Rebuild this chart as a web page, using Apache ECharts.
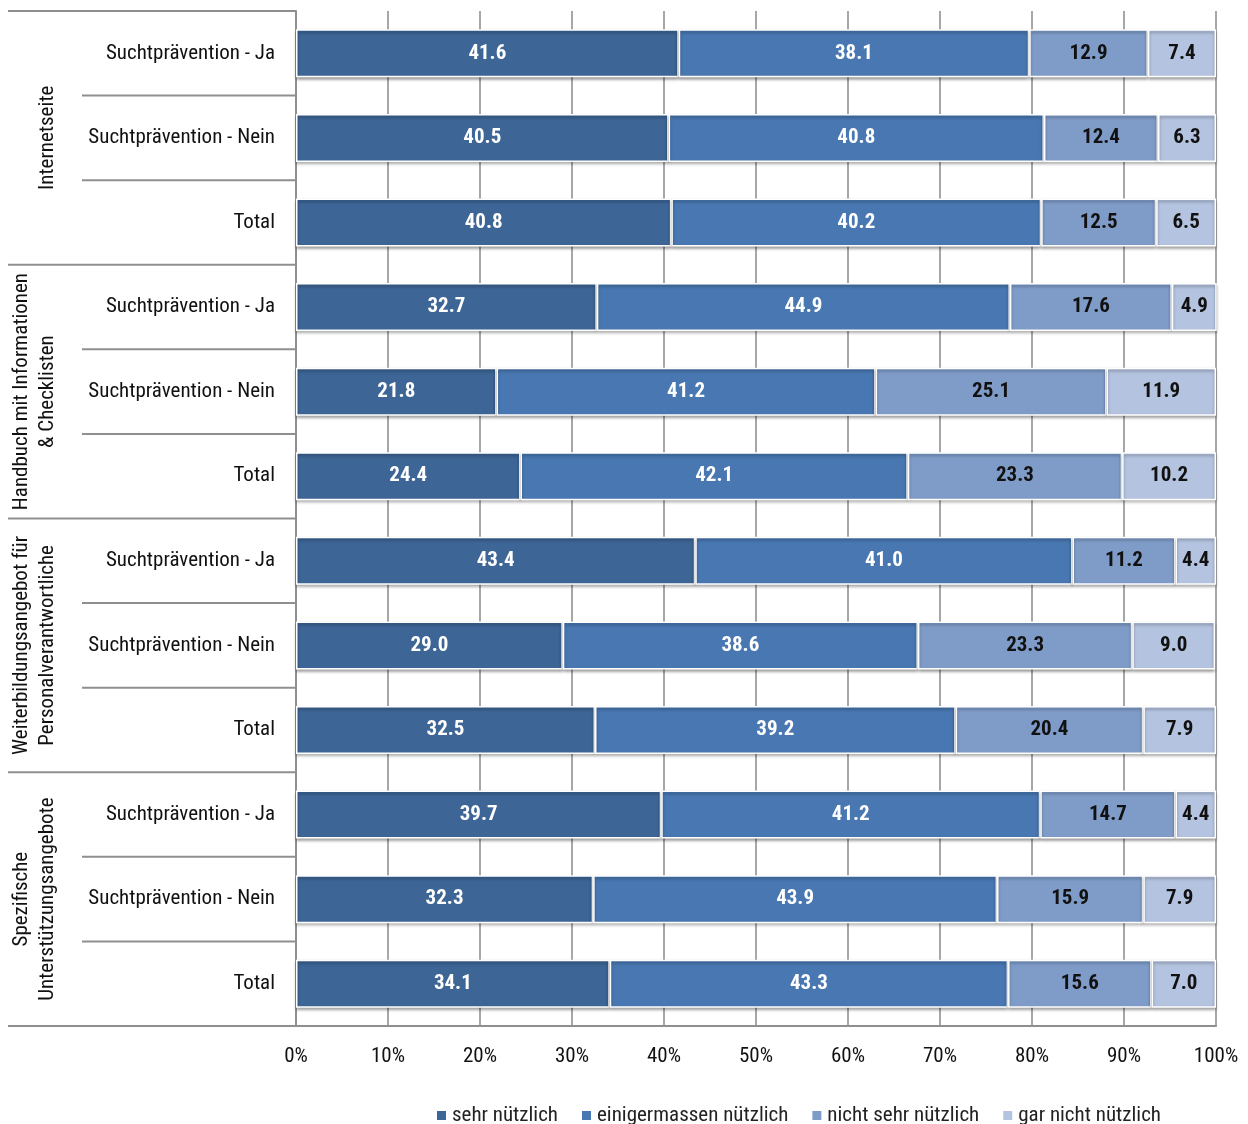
<!DOCTYPE html>
<html>
<head>
<meta charset="utf-8">
<script src="https://cdn.jsdelivr.net/npm/echarts@6/dist/echarts.min.js"></script>
<style>
html,body{margin:0;padding:0;background:#fff;}
#chart{width:1248px;height:1124px;}
</style>
</head>
<body>
<div id="chart"></div>
<script>
var FONT = "'Liberation Sans Narrow','Arial Narrow','Roboto Condensed','DejaVu Sans Condensed',sans-serif";

var groups = [
  "Internetseite",
  "Handbuch mit Informationen\n& Checklisten",
  "Weiterbildungsangebot für\nPersonalverantwortliche",
  "Spezifische\nUnterstützungsangebote"
];
var rowLabels = ["Suchtprävention - Ja", "Suchtprävention - Nein", "Total"];
var seriesNames = ["sehr nützlich", "einigermassen nützlich", "nicht sehr nützlich", "gar nicht nützlich"];
var xTicks = ["0%","10%","20%","30%","40%","50%","60%","70%","80%","90%","100%"];

var sehr = [41.6, 40.5, 40.8, 32.7, 21.8, 24.4, 43.4, 29.0, 32.5, 39.7, 32.3, 34.1];
var einiger = [38.1, 40.8, 40.2, 44.9, 41.2, 42.1, 41.0, 38.6, 39.2, 41.2, 43.9, 43.3];
var nichtSehr = [12.9, 12.4, 12.5, 17.6, 25.1, 23.3, 11.2, 23.3, 20.4, 14.7, 15.9, 15.6];
var garNicht = [7.4, 6.3, 6.5, 4.9, 11.9, 10.2, 4.4, 9.0, 7.9, 4.4, 7.9, 7.0];

var colors = ["#3d6595", "#4877b1", "#7f9cc8", "#b4c3df"];
var labelColors = ["#ffffff", "#ffffff", "#111111", "#111111"];

var categories = [];
groups.forEach(function (g) { rowLabels.forEach(function (r) { categories.push(r); }); });

var values = [sehr, einiger, nichtSehr, garNicht];

var chart = echarts.init(document.getElementById('chart'));

var series = values.map(function (arr, k) {
  return {
    name: seriesNames[k],
    type: 'bar',
    stack: 'total',
    barWidth: 48,
    data: arr,
    itemStyle: {
      color: colors[k],
      borderColor: '#ffffff',
      borderWidth: 1.5,
      shadowColor: 'rgba(0,0,0,0.35)',
      shadowBlur: 3,
      shadowOffsetY: 2
    },
    label: {
      show: true,
      position: 'inside',
      color: labelColors[k],
      fontFamily: FONT,
      fontWeight: 'bold',
      fontSize: 21,
      formatter: function (p) { return p.value.toFixed(1); }
    },
    emphasis: { disabled: true }
  };
});

var option = {
  animation: false,
  backgroundColor: '#ffffff',
  textStyle: { fontFamily: FONT },
  grid: { left: 296, right: 32, top: 11, bottom: 98, containLabel: false },
  legend: {
    data: seriesNames,
    left: 430,
    top: 1100,
    itemWidth: 11,
    itemHeight: 11,
    itemGap: 22,
    icon: 'rect',
    textStyle: { fontFamily: FONT, fontSize: 21, color: '#222' }
  },
  xAxis: {
    type: 'value',
    min: 0,
    max: 100,
    interval: 10,
    axisLine: { show: true, lineStyle: { color: '#8f8f8f', width: 2 } },
    axisTick: { show: false },
    splitLine: { show: true, lineStyle: { color: '#8a8a8a', width: 1.5 } },
    axisLabel: {
      margin: 20,
      fontFamily: FONT,
      fontSize: 21,
      color: '#111',
      formatter: function (v) { return xTicks[Math.round(v / 10)]; }
    }
  },
  yAxis: {
    type: 'category',
    inverse: true,
    data: categories,
    axisLine: { show: true, lineStyle: { color: '#8f8f8f', width: 2 } },
    axisTick: { show: false },
    axisLabel: { margin: 21, fontFamily: FONT, fontSize: 21, color: '#111' }
  },
  series: series
};

chart.setOption(option);

// separators and group labels computed from the axis scale
var centers = categories.map(function (c, i) { return chart.convertToPixel({ yAxisIndex: 0 }, i); });
var band = centers[1] - centers[0];
var gridLeft = chart.convertToPixel({ xAxisIndex: 0 }, 0);
var elements = [];
for (var i = 0; i <= categories.length; i++) {
  var y = (i < categories.length ? centers[i] : centers[categories.length - 1] + band) - band / 2;
  var isGroup = (i % rowLabels.length === 0);
  elements.push({
    type: 'line',
    shape: { x1: isGroup ? 8 : 82, y1: y, x2: gridLeft, y2: y },
    style: { stroke: '#8f8f8f', lineWidth: 2 },
    silent: true
  });
}
groups.forEach(function (g, gi) {
  var cy = centers[gi * 3 + 1];
  elements.push({
    type: 'text',
    x: 61,
    y: cy,
    rotation: Math.PI / 2,
    style: {
      text: g,
      fontFamily: FONT,
      fontSize: 21,
      lineHeight: 26,
      fill: '#111',
      align: 'center',
      verticalAlign: 'bottom'
    },
    silent: true
  });
});
chart.setOption({ graphic: { elements: elements } });
</script>
</body>
</html>
